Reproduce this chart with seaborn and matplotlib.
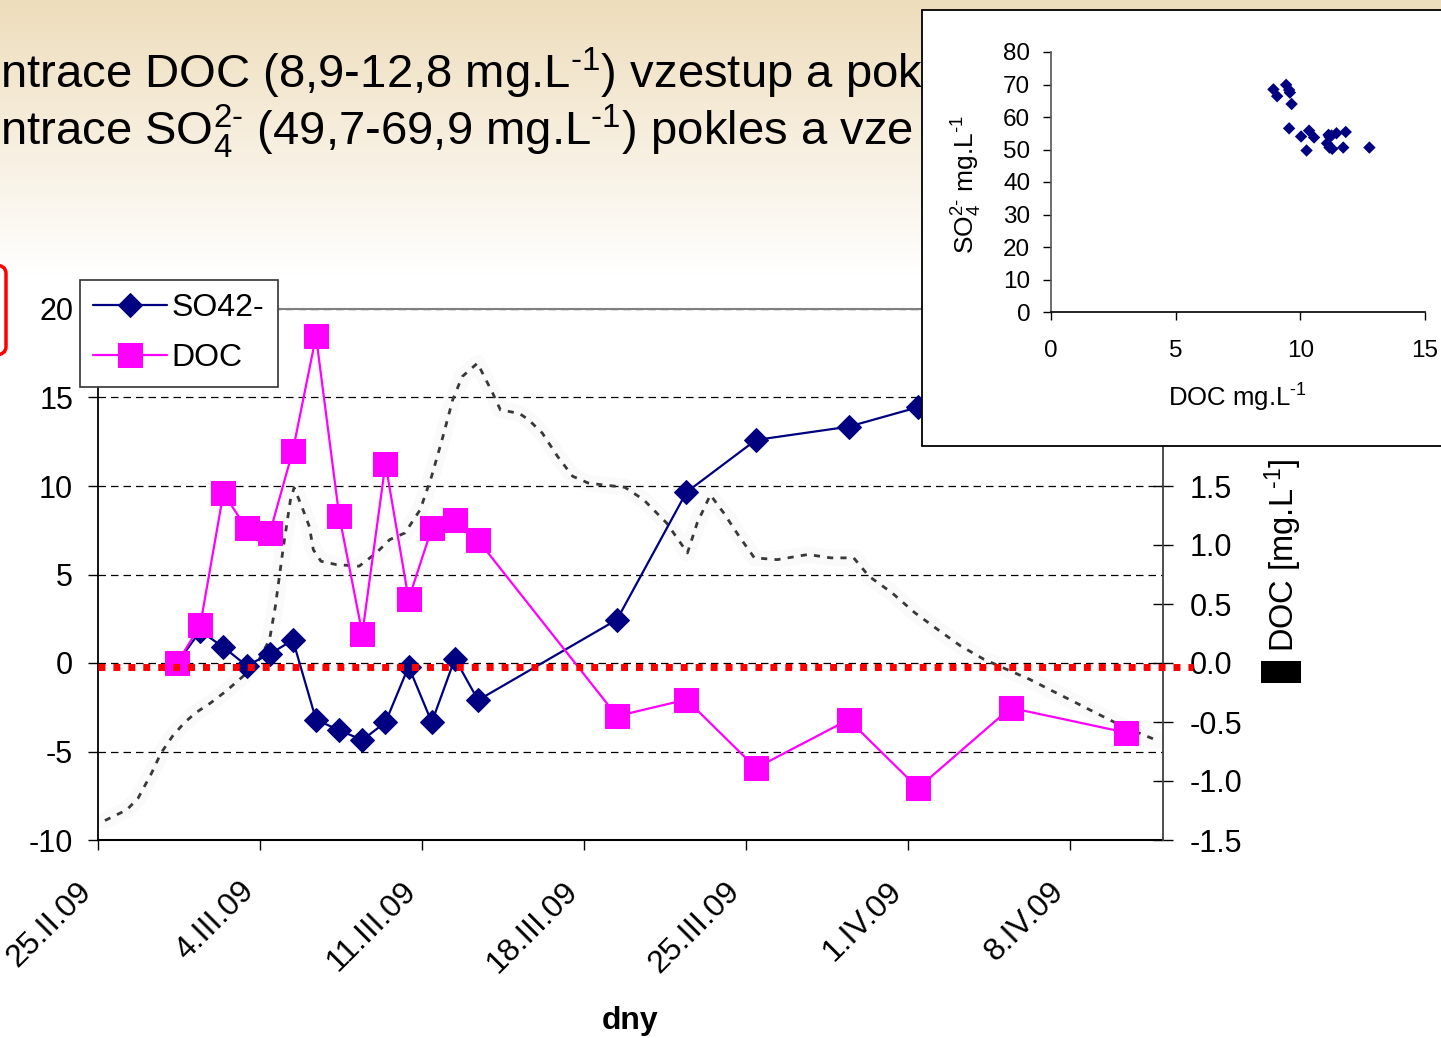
import numpy as np
import pandas as pd
import matplotlib
matplotlib.use("Agg")
import matplotlib.pyplot as plt
from matplotlib.patches import Rectangle, FancyBboxPatch
import seaborn as sns

# ---------------- data ----------------
sample_dates = ["2009-02-28 10:00", "2009-03-01 10:00", "2009-03-02 10:00", "2009-03-03 10:00",
                "2009-03-04 10:00", "2009-03-05 10:00", "2009-03-06 10:00", "2009-03-07 10:00",
                "2009-03-08 10:00", "2009-03-09 10:00", "2009-03-10 10:00", "2009-03-11 10:00",
                "2009-03-12 10:00", "2009-03-13 10:00", "2009-03-19 10:00", "2009-03-22 10:00",
                "2009-03-25 10:00", "2009-03-29 10:00", "2009-04-01 10:00", "2009-04-05 10:00",
                "2009-04-10 10:00"]
so4_change = [0.0, 1.8, 0.9, -0.15, 0.5, 1.3, -3.2, -3.8, -4.35, -3.35, -0.2, -3.35, 0.25, -2.1,
              2.45, 9.65, 12.6, 13.35, 14.45, 14.2, 15.9]
doc_change = [0.0, 0.32, 1.44, 1.14, 1.10, 1.80, 2.77, 1.25, 0.25, 1.69, 0.54, 1.14, 1.21, 1.04,
              -0.45, -0.31, -0.89, -0.48, -1.06, -0.38, -0.59]

# grey dashed background series (days after 25.II.09, left-axis units)
gray_days = [0.3, 0.5, 1.24, 1.73, 2.31, 2.72, 3.21, 3.71, 4.2, 4.86, 5.52, 6.18, 6.84, 7.41, 7.66,
             8.0, 8.31, 8.47, 8.8, 9.13, 9.3, 9.63, 10.29, 11.28, 12.02, 12.6, 13.26, 13.92, 14.41,
             14.9, 15.32, 15.73, 16.39, 17.05, 17.38, 18.2, 18.6, 19.19, 19.85, 20.5, 21.17, 21.76,
             22.75, 23.57, 24.56, 25.46, 25.88, 26.45, 27.03, 27.69, 28.35, 29.34, 30.66, 31.65,
             32.64, 33.3, 34.29, 35.28, 36.26, 37.25, 38.25, 39.23, 40.22, 41.21, 42.2, 43.19,
             44.18, 45.75]
gray_values = [-8.9, -8.77, -8.3, -7.64, -6.23, -5.09, -4.15, -3.4, -2.83, -2.26, -1.6, -0.85, -0.09,
               1.32, 3.2, 6.5, 9.2, 9.9, 8.85, 7.7, 6.4, 5.75, 5.56, 5.47, 6.22, 6.97, 7.35, 8.67,
               10.55, 12.8, 14.87, 16.18, 16.94, 15.24, 14.3, 14.1, 13.74, 12.99, 11.67, 10.55,
               10.17, 10.07, 9.93, 9.22, 7.91, 6.22, 7.91, 9.5, 8.47, 7.16, 5.94, 5.84, 6.13, 5.94,
               5.94, 4.9, 3.97, 2.84, 1.9, 0.97, 0.22, -0.35, -0.91, -1.57, -2.22, -2.88, -3.53,
               -4.38]
gray_start = "2009-02-25"

# inset scatter: DOC vs SO4 (mg/L)
scatter_doc = [10.03, 10.35, 11.45, 11.17, 11.13, 11.82, 12.77, 11.28, 10.25, 11.72, 10.55, 11.17,
               11.25, 11.07, 9.55, 9.65, 9.07, 9.58, 8.92, 9.43, 9.55]
scatter_so4 = [54.0, 55.8, 55.0, 53.9, 54.5, 55.4, 50.6, 50.2, 49.7, 50.6, 53.7, 50.6,
               54.3, 51.9, 56.5, 64.0, 66.4, 67.5, 68.5, 69.9, 68.3]

tick_dates = ["2009-02-25", "2009-03-04", "2009-03-11", "2009-03-18", "2009-03-25", "2009-04-01",
              "2009-04-08"]
tick_labels = ["25.II.09", "4.III.09", "11.III.09", "18.III.09", "25.III.09", "1.IV.09", "8.IV.09"]
x_range = ["2009-02-25", "2009-04-12"]
left_ticks = [-10, -5, 0, 5, 10, 15, 20]
right_ticks = [-1.5, -1.0, -0.5, 0.0, 0.5, 1.0, 1.5, 2.0, 2.5, 3.0]
right_tick_labels = ["-1.5", "-1.0", "-0.5", "0.0", "0.5", "1.0", "1.5", "", "", ""]  # upper ones hidden by inset
inset_xticks = [0, 5, 10, 15]
inset_yticks = [0, 10, 20, 30, 40, 50, 60, 70, 80]
series_names = ["SO42-", "DOC"]
HY = "\u2010"  # typographic hyphen, so superscripts show "-" rather than a wide minus
title_lines = ["ntrace DOC (8,9-12,8 mg.L$^{" + HY + "1}$) vzestup a pok",
               "ntrace SO$_4^{2" + HY + "}$ (49,7-69,9 mg.L$^{" + HY + "1}$) pokles a vze"]
right_label = "DOC [mg.L$^{" + HY + "1}$]"
inset_xlabel = "DOC mg.L$^{" + HY + "1}$"
inset_ylabel = "SO$_4^{2" + HY + "}$ mg.L$^{" + HY + "1}$"
zero_level_right = -0.03

# ---------------- style ----------------
sns.set_style("white")
plt.rcParams["font.family"] = ["Liberation Sans", "DejaVu Sans"]
plt.rcParams["mathtext.fontset"] = "custom"
plt.rcParams["mathtext.rm"] = "Liberation Sans"
plt.rcParams["mathtext.it"] = "Liberation Sans:italic"
plt.rcParams["mathtext.bf"] = "Liberation Sans:bold"
plt.rcParams["mathtext.fallback"] = "stixsans"
plt.rcParams["axes.unicode_minus"] = False
for k in ["text.color", "axes.labelcolor", "xtick.color", "ytick.color"]:
    plt.rcParams[k] = "black"

W, H = 1441, 1038
fig = plt.figure(figsize=(W / 100, H / 100), dpi=100)


def fx(px):
    return px / W


def fy(py):
    return 1 - py / H


# slide background gradient
bg = fig.add_axes([0, 0, 1, 1], zorder=-10)
rows = np.arange(H)
t = np.clip(rows / 275.0, 0, 1)[:, None]
top = np.array([0.933, 0.867, 0.737])
grad = top + (1 - top) * t
bg.imshow(grad[:, None, :], aspect="auto", extent=[0, 1, 0, 1])
bg.set_axis_off()

# ---------------- main chart ----------------
ax = fig.add_axes([fx(98), fy(840), fx(1163) - fx(98), fy(309) - fy(840)], zorder=1)
ax.set_facecolor("none")
ax2 = ax.twinx()
ax2.patch.set_visible(False)

dates = pd.to_datetime(pd.Series(sample_dates))
gray_dt = pd.Timestamp(gray_start) + pd.to_timedelta(pd.Series(gray_days), unit="D")

sns.lineplot(x=gray_dt, y=gray_values, ax=ax, color="black", alpha=0.018, lw=12,
             estimator=None, sort=False, zorder=2)
sns.lineplot(x=gray_dt, y=gray_values, ax=ax, color="#383838", lw=2.0,
             linestyle=(0, (2.2, 2.6)), estimator=None, sort=False, zorder=2)
sns.lineplot(x=dates, y=so4_change, ax=ax, color="#000080", lw=1.6, marker="D", markersize=12.5,
             markeredgecolor="#000080", estimator=None, sort=False, zorder=4)
h_so4 = ax.lines[-1]
sns.lineplot(x=dates, y=doc_change, ax=ax2, color="#FF00FF", lw=1.6, marker="s", markersize=17,
             markeredgecolor="#FF00FF", estimator=None, sort=False, zorder=4)
h_doc = ax2.lines[-1]

ax2.axhline(zero_level_right, xmin=0, xmax=1.028, color="#FF0000", lw=5,
            linestyle=(0, (1, 1.15)), clip_on=False, zorder=10)

ax.set_xlim(pd.Timestamp(x_range[0]), pd.Timestamp(x_range[1]))
ax.set_ylim(-10, 20)
ax2.set_ylim(-1.5, 3.0)
ax.set_yticks(left_ticks)
ax2.set_yticks(right_ticks)
ax2.set_yticklabels(right_tick_labels)
ax.set_xticks(pd.to_datetime(tick_dates))
ax.set_xticklabels(tick_labels, rotation=45, ha="right")

ax.grid(axis="y", color="black", lw=0.9, linestyle=(0, (6, 4)))
ax.grid(axis="x", visible=False)
ax.set_axisbelow(True)

ax.spines["right"].set_visible(False)
ax.spines["top"].set_color("#808080")
ax.spines["top"].set_linewidth(1.5)
ax.spines["left"].set_color("black")
ax.spines["left"].set_linewidth(1.3)
ax.spines["bottom"].set_color("black")
ax.spines["bottom"].set_linewidth(1.5)
for s in ["left", "top", "bottom"]:
    ax2.spines[s].set_visible(False)
ax2.spines["right"].set_color("#404040")
ax2.spines["right"].set_linewidth(1.3)

ax.tick_params(axis="y", direction="out", length=7, width=1, pad=11, labelsize=22, left=True)
ax.tick_params(axis="x", direction="out", length=7, width=1, pad=19, labelsize=23, bottom=True)
ax2.tick_params(axis="y", direction="inout", length=14, width=1, pad=12, labelsize=22, right=True)

ax.set_ylabel("")
ax.set_xlabel("dny", fontsize=23, fontweight="bold")
ax.xaxis.set_label_coords(0.5, (840 - 1021) / 531)
ax.xaxis.label.set_va("center")
ax2.set_ylabel(right_label, fontsize=23.5)
ax2.yaxis.set_label_coords((1283 - 98) / 1065, (840 - 555) / 531)
ax2.yaxis.label.set_va("center")
ax2.yaxis.label.set_ha("center")

leg = ax2.legend(handles=[h_so4, h_doc], labels=series_names, loc="upper left",
                 bbox_to_anchor=(fx(80), fy(280)), bbox_transform=fig.transFigure,
                 borderaxespad=0, fancybox=False, framealpha=1, edgecolor="#333333",
                 facecolor="white", fontsize=23, handlelength=2.3, handletextpad=0.15,
                 borderpad=0.42, labelspacing=0.62, frameon=True)
leg.get_frame().set_linewidth(1.2)

# black key box next to the right label
fig.add_artist(Rectangle((fx(1261), fy(683)), fx(40), 22 / H, transform=fig.transFigure,
                         facecolor="black", edgecolor="none", zorder=3))
# red rounded frame at left edge
fig.add_artist(FancyBboxPatch((fx(-40), fy(355)), fx(46), 90 / H,
                              boxstyle="round,pad=0,rounding_size=0.008",
                              transform=fig.transFigure, fill=False, edgecolor="#FF0000",
                              lw=2.5, zorder=3))

# slide text
fig.text(0.0, fy(88), title_lines[0], fontsize=34, ha="left", va="baseline", zorder=2)
fig.text(0.0, fy(145), title_lines[1], fontsize=34, ha="left", va="baseline", zorder=2)

# ---------------- inset scatter ----------------
fig.add_artist(Rectangle((fx(922), fy(446)), fx(1470) - fx(922), (446 - 10) / H,
                         transform=fig.transFigure, facecolor="white", edgecolor="black",
                         lw=1.3, zorder=5))
ins = fig.add_axes([fx(1051), fy(312), fx(1425) - fx(1051), (312 - 52) / H], zorder=6)
ins.set_facecolor("none")
sns.scatterplot(x=scatter_doc, y=scatter_so4, ax=ins, marker="D", s=40, color="#000080",
                edgecolor="none", linewidth=0)
ins.set_xlim(0, 15)
ins.set_ylim(0, 80)
ins.set_xticks(inset_xticks)
ins.set_yticks(inset_yticks)
ins.spines["top"].set_visible(False)
ins.spines["right"].set_visible(False)
ins.spines["left"].set_color("#555555")
ins.spines["bottom"].set_color("black")
ins.spines["left"].set_linewidth(1.2)
ins.spines["bottom"].set_linewidth(1.2)
ins.tick_params(axis="y", direction="out", length=6, width=1, pad=9, labelsize=17.5, left=True)
ins.tick_params(axis="x", direction="out", length=6, width=1, pad=14, labelsize=17.5, bottom=True)
ins.set_xlabel(inset_xlabel, fontsize=18.5)
ins.xaxis.set_label_coords((1237 - 1051) / 374, (312 - 398) / 260)
ins.xaxis.label.set_va("center")
ins.set_ylabel(inset_ylabel, fontsize=19)
ins.yaxis.set_label_coords((967 - 1051) / 374, (312 - 184) / 260)
ins.yaxis.label.set_va("center")
ins.yaxis.label.set_ha("center")

fig.savefig("out.png", dpi=100)
